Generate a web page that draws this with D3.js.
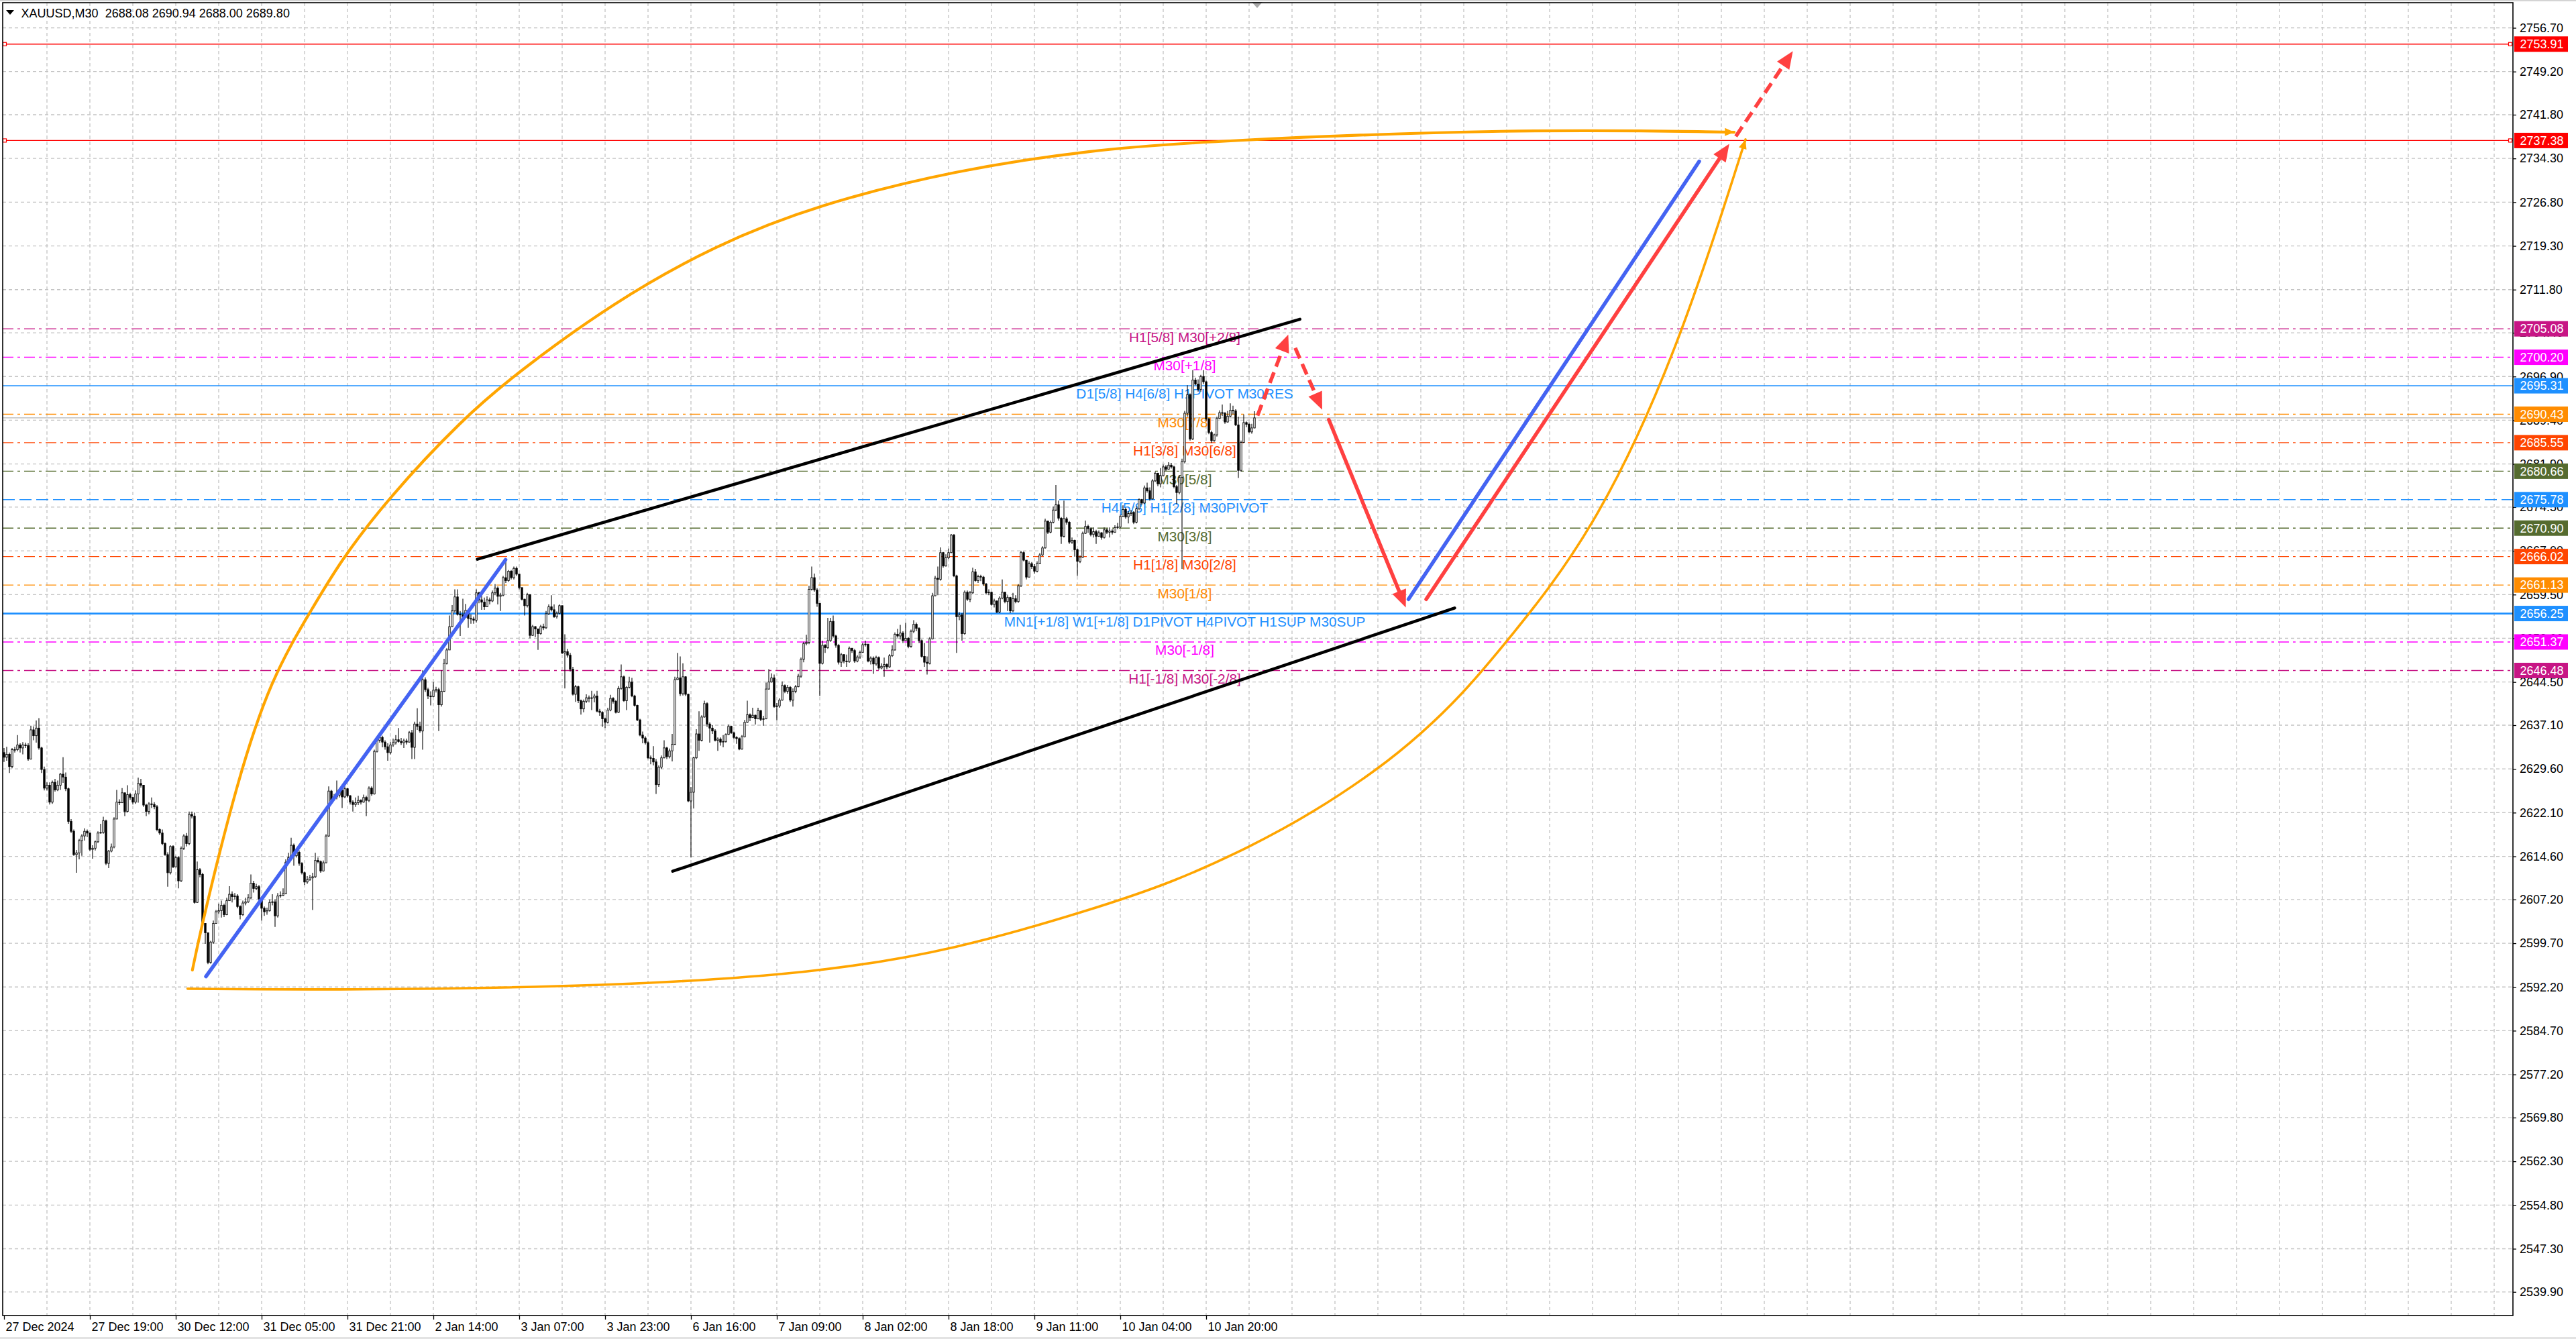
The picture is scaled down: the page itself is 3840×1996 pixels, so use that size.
<!DOCTYPE html>
<html>
<head>
<meta charset="utf-8">
<script src="https://cdn.jsdelivr.net/npm/d3@7"></script>
<style>
  body { margin: 0; background: #fff; overflow: hidden; }
  svg { display: block; }
</style>
</head>
<body>
<svg id="chart"></svg>
<script>
// ---- data ----
const title = "XAUUSD,M30  2688.08 2690.94 2688.00 2689.80";
const firstOpen = 2632.4;
const bidPrice = 2689.80;

const closes = [
2631.6,2632.1,2630.0,2632.9,2632.9,2633.7,2633.2,2633.7,2633.6,2631.3,
2636.3,2635.3,2636.6,2633.2,2629.5,2626.3,2626.8,2623.9,2627.3,2626.0,
2626.8,2628.7,2628.2,2626.2,2620.6,2618.9,2614.9,2615.2,2617.3,2618.1,
2618.9,2618.6,2615.8,2616.0,2617.1,2618.6,2618.7,2620.7,2613.4,2615.5,
2616.2,2621.0,2623.9,2623.8,2625.5,2622.3,2625.2,2624.7,2623.9,2625.3,
2627.1,2626.8,2623.4,2622.3,2623.6,2623.5,2623.1,2619.2,2618.6,2616.8,
2614.9,2611.8,2616.3,2612.8,2614.4,2610.4,2616.0,2618.1,2616.8,2621.8,
2621.5,2606.7,2612.3,2611.5,2603.1,2601.5,2596.4,2599.9,2603.1,2605.1,
2605.3,2606.2,2604.6,2607.0,2608.1,2607.7,2607.8,2606.0,2604.6,2606.6,
2606.8,2607.5,2610.0,2609.1,2609.4,2607.3,2605.7,2605.1,2605.3,2606.7,
2606.8,2604.4,2607.8,2607.9,2608.2,2613.6,2614.4,2616.5,2614.7,2615.3,
2613.4,2611.8,2610.2,2610.6,2610.9,2611.1,2613.9,2613.7,2612.1,2613.5,
2618.1,2625.8,2624.3,2624.8,2625.1,2625.9,2624.8,2626.2,2625.0,2623.9,
2623.5,2623.8,2624.2,2623.9,2624.7,2624.2,2626.3,2625.3,2632.6,2634.5,
2635.0,2634.2,2633.4,2632.4,2633.7,2634.1,2634.6,2634.3,2634.1,2634.4,
2634.2,2635.8,2633.3,2637.3,2636.9,2636.1,2644.9,2643.2,2642.1,2642.0,
2643.1,2643.2,2640.6,2642.9,2647.7,2650.0,2654.0,2656.7,2659.1,2656.1,
2656.0,2655.6,2656.8,2655.4,2655.3,2655.1,2659.8,2658.6,2658.2,2657.4,
2658.6,2658.4,2659.8,2660.6,2659.2,2659.4,2662.4,2661.9,2663.5,2662.4,
2664.0,2663.0,2660.7,2658.7,2657.6,2659.5,2652.5,2654.0,2653.6,2652.8,
2654.0,2653.8,2656.2,2657.4,2656.9,2655.7,2656.3,2657.6,2649.5,2649.7,
2649.1,2646.7,2642.4,2643.7,2641.3,2639.9,2641.2,2641.8,2641.7,2641.8,
2642.1,2639.5,2639.3,2638.2,2637.6,2639.7,2641.7,2641.2,2639.3,2643.4,
2645.4,2641.3,2643.6,2644.5,2642.1,2640.5,2638.0,2635.4,2634.9,2634.1,
2631.5,2631.4,2630.8,2626.9,2629.9,2631.5,2633.2,2631.7,2632.7,2633.8,
2644.9,2645.2,2642.5,2645.4,2642.4,2624.1,2625.6,2631.5,2635.6,2634.5,
2638.5,2640.8,2637.3,2636.6,2636.1,2634.5,2634.7,2634.2,2634.3,2635.5,
2636.9,2635.8,2635.0,2634.8,2633.0,2635.1,2637.6,2638.9,2638.4,2638.8,
2638.2,2639.6,2638.1,2638.2,2643.3,2644.5,2645.2,2640.3,2640.4,2641.4,
2643.9,2642.9,2643.6,2641.4,2642.9,2643.7,2645.5,2648.4,2651.1,2651.3,
2660.4,2662.4,2660.3,2658.0,2647.7,2650.8,2650.4,2651.6,2654.9,2652.4,
2650.8,2647.9,2649.2,2648.1,2648.0,2650.3,2649.9,2648.1,2648.8,2649.6,
2650.9,2651.0,2648.1,2648.6,2647.6,2648.7,2646.9,2647.2,2647.5,2647.1,
2649.0,2650.0,2652.7,2652.4,2652.9,2651.6,2652.0,2650.6,2653.2,2654.4,
2653.7,2651.6,2648.9,2647.9,2647.7,2651.9,2659.3,2662.3,2662.1,2666.7,
2664.4,2665.8,2666.7,2669.7,2662.7,2655.7,2656.0,2652.8,2659.9,2658.7,
2659.8,2663.4,2661.9,2662.6,2662.5,2661.3,2659.8,2659.9,2657.8,2658.4,
2656.5,2658.9,2659.9,2658.3,2659.0,2656.7,2658.8,2658.3,2661.0,2666.7,
2665.4,2662.5,2664.8,2664.3,2663.5,2664.8,2666.3,2667.5,2672.1,2670.2,
2671.9,2674.0,2674.9,2672.6,2669.5,2672.5,2671.9,2668.5,2668.8,2667.2,
2665.2,2665.9,2670.0,2671.2,2670.8,2669.8,2670.3,2669.5,2670.1,2669.3,
2670.6,2670.2,2670.4,2670.2,2671.0,2671.1,2672.9,2674.1,2672.8,2673.4,
2673.6,2671.9,2674.2,2675.8,2675.2,2677.8,2677.3,2675.9,2679.0,2680.3,
2678.5,2679.9,2681.4,2681.0,2681.7,2681.4,2678.0,2677.0,2679.6,2682.3,
2690.6,2693.8,2686.2,2696.3,2695.6,2694.7,2696.9,2696.0,2689.6,2687.3,
2685.9,2686.9,2689.7,2690.7,2690.6,2689.1,2690.1,2691.1,2691.0,2688.6,
2680.8,2685.6,2689.0,2688.7,2687.4,2688.08,2689.80
];

const highs = [
2633.2,2633.4,2632.4,2633.2,2633.4,2635.4,2634.0,2634.2,2634.1,2634.0,
2637.0,2636.9,2637.9,2638.3,2633.4,2630.0,2627.3,2627.3,2627.6,2627.9,
2627.6,2628.9,2631.6,2629.0,2626.4,2621.0,2619.2,2615.7,2617.6,2618.4,
2619.4,2619.2,2618.4,2616.5,2617.3,2618.9,2620.2,2621.4,2620.9,2615.7,
2616.8,2621.3,2626.0,2624.4,2626.3,2625.5,2626.8,2625.5,2624.8,2625.9,
2628.1,2627.9,2626.7,2623.6,2623.9,2624.7,2623.9,2623.4,2619.4,2619.2,
2617.0,2615.3,2616.5,2616.5,2614.7,2614.6,2616.3,2618.4,2618.6,2622.3,
2622.3,2622.1,2613.7,2612.6,2611.8,2603.1,2601.5,2600.1,2603.6,2605.4,
2606.5,2607.0,2606.5,2607.5,2609.5,2608.6,2608.3,2608.1,2606.2,2607.0,
2607.5,2608.1,2611.5,2610.4,2609.9,2609.7,2607.7,2606.0,2605.8,2607.2,
2608.1,2607.2,2608.3,2608.6,2609.1,2614.1,2615.2,2617.8,2616.8,2615.8,
2615.6,2613.6,2612.0,2611.2,2611.4,2611.8,2615.2,2614.4,2613.9,2613.9,
2618.4,2626.6,2626.0,2625.3,2627.6,2626.3,2626.4,2626.6,2626.3,2625.1,
2624.2,2624.7,2625.0,2624.4,2625.2,2625.0,2626.6,2626.6,2632.9,2635.0,
2635.8,2635.3,2634.5,2634.0,2634.2,2634.8,2635.4,2636.6,2634.9,2634.8,
2634.8,2636.1,2636.3,2637.7,2640.0,2637.7,2646.5,2645.3,2643.5,2642.9,
2644.5,2643.7,2643.5,2646.5,2648.5,2650.3,2655.9,2657.7,2660.4,2660.4,
2656.7,2658.8,2657.9,2656.1,2656.1,2655.7,2660.4,2660.0,2659.4,2659.0,
2659.2,2659.0,2660.2,2661.3,2660.9,2659.8,2662.7,2665.2,2663.7,2663.7,
2664.3,2664.3,2663.0,2660.6,2658.8,2659.8,2659.5,2654.3,2654.1,2653.6,
2654.3,2654.5,2656.7,2657.8,2659.4,2657.8,2656.6,2657.8,2657.6,2652.7,
2650.2,2649.5,2647.1,2644.0,2643.9,2641.5,2641.5,2642.4,2642.2,2643.0,
2642.5,2643.0,2639.9,2639.5,2638.4,2640.1,2642.3,2641.9,2641.4,2643.8,
2647.5,2645.6,2643.8,2645.4,2645.2,2642.3,2640.6,2638.2,2636.0,2635.2,
2634.3,2631.9,2633.5,2631.3,2630.2,2631.9,2634.5,2633.4,2633.1,2635.6,
2645.4,2649.5,2648.9,2647.7,2645.5,2642.5,2626.5,2631.7,2636.4,2639.5,
2638.8,2641.3,2641.0,2637.6,2637.1,2636.4,2635.0,2635.0,2635.4,2635.7,
2637.2,2637.0,2636.0,2635.2,2635.0,2635.4,2638.0,2641.3,2639.1,2640.1,
2638.9,2640.1,2639.7,2638.7,2644.4,2646.7,2646.0,2645.8,2640.9,2641.7,
2644.6,2644.1,2644.0,2643.8,2643.4,2644.0,2645.9,2648.7,2651.4,2652.6,
2661.0,2664.3,2663.1,2660.6,2658.0,2651.6,2651.0,2655.5,2655.5,2655.9,
2652.6,2651.0,2649.5,2649.3,2649.2,2650.6,2650.2,2650.2,2649.1,2649.9,
2651.2,2651.6,2651.0,2648.9,2648.9,2649.0,2648.9,2647.7,2648.7,2647.7,
2649.3,2650.8,2653.0,2653.6,2654.3,2653.2,2654.7,2652.2,2653.5,2655.1,
2654.7,2653.9,2651.8,2651.2,2648.9,2652.2,2659.8,2662.7,2664.3,2667.6,
2666.8,2666.4,2667.4,2669.9,2669.9,2662.9,2656.5,2656.3,2660.2,2660.2,
2660.1,2664.1,2663.9,2662.9,2662.9,2662.7,2661.5,2660.4,2660.0,2658.8,
2658.5,2659.2,2662.1,2660.0,2659.4,2659.1,2659.8,2659.4,2661.3,2667.0,
2666.9,2665.4,2665.2,2665.1,2664.7,2665.2,2666.6,2667.8,2672.5,2672.1,
2672.2,2674.6,2678.3,2675.6,2672.8,2675.6,2672.8,2672.1,2669.3,2668.9,
2667.4,2666.2,2670.3,2672.2,2671.5,2671.0,2671.0,2670.6,2670.5,2670.2,
2671.0,2670.8,2671.0,2670.7,2671.4,2671.8,2673.2,2674.8,2674.4,2673.8,
2674.0,2673.8,2674.6,2676.0,2675.9,2678.2,2678.7,2677.9,2679.3,2680.6,
2680.4,2681.2,2681.8,2681.7,2682.2,2682.1,2681.6,2678.3,2680.0,2682.8,
2691.0,2695.4,2694.0,2698.0,2696.7,2696.4,2697.2,2698.0,2696.2,2689.8,
2687.6,2687.1,2690.0,2691.1,2692.1,2690.8,2691.0,2692.3,2691.9,2691.3,
2690.0,2685.9,2690.4,2689.2,2689.0,2688.8,2690.94
];

const lows = [
2630.8,2631.0,2628.9,2629.7,2632.4,2632.6,2632.4,2632.1,2633.2,2631.0,
2631.2,2634.5,2634.1,2632.9,2628.9,2625.9,2625.9,2623.5,2623.6,2625.7,
2625.8,2626.0,2627.2,2625.8,2620.2,2618.6,2614.7,2611.8,2614.1,2614.7,
2617.3,2617.9,2615.5,2614.2,2615.6,2616.9,2618.5,2618.5,2613.1,2612.6,
2615.3,2616.0,2621.3,2623.4,2623.9,2621.5,2622.1,2624.3,2623.5,2623.6,
2623.8,2626.4,2623.1,2621.5,2621.8,2622.9,2622.7,2618.9,2618.3,2616.5,
2614.7,2609.4,2611.5,2612.6,2612.7,2609.1,2610.2,2615.7,2616.3,2616.5,
2621.1,2606.5,2606.6,2611.0,2602.8,2599.6,2596.1,2596.2,2599.6,2603.1,
2604.7,2604.1,2604.2,2604.5,2607.2,2606.7,2607.2,2605.7,2603.8,2604.4,
2606.2,2606.6,2607.3,2608.4,2608.8,2607.0,2603.6,2604.4,2604.6,2605.1,
2606.2,2602.5,2604.1,2607.5,2607.8,2608.1,2613.4,2614.4,2613.0,2614.4,
2613.0,2611.5,2609.7,2609.9,2610.4,2605.4,2610.9,2613.4,2611.8,2612.0,
2613.4,2617.9,2623.9,2624.3,2624.4,2624.7,2622.9,2624.6,2624.7,2623.5,
2622.3,2623.1,2623.4,2623.5,2623.8,2621.5,2623.9,2625.0,2625.2,2632.4,
2634.1,2633.3,2632.9,2631.0,2632.1,2633.4,2633.8,2634.1,2633.7,2633.2,
2633.8,2634.1,2631.3,2631.3,2636.3,2635.8,2632.9,2642.8,2641.6,2640.5,
2641.9,2642.7,2636.1,2640.3,2642.8,2647.5,2650.1,2653.9,2656.4,2655.9,
2652.4,2655.3,2655.5,2653.8,2654.5,2654.5,2654.7,2658.0,2656.9,2656.9,
2657.6,2657.8,2658.2,2659.4,2657.8,2656.7,2659.2,2661.5,2661.7,2662.1,
2662.1,2662.7,2660.4,2658.5,2655.9,2657.3,2652.0,2652.4,2652.2,2650.0,
2652.6,2653.4,2653.6,2656.0,2656.6,2655.5,2655.4,2656.1,2649.3,2643.4,
2648.7,2646.3,2642.2,2641.1,2640.9,2638.9,2639.3,2640.9,2641.0,2639.7,
2641.0,2639.3,2638.7,2636.8,2636.6,2637.4,2639.5,2640.8,2639.1,2639.2,
2643.2,2641.1,2639.7,2643.4,2641.9,2640.3,2637.8,2635.2,2634.0,2633.8,
2631.3,2630.4,2630.2,2625.3,2626.5,2629.6,2631.4,2631.3,2631.4,2630.9,
2633.7,2644.8,2642.1,2642.2,2642.1,2623.9,2614.4,2622.8,2631.3,2632.7,
2634.3,2638.4,2636.8,2634.1,2635.6,2634.3,2632.7,2633.6,2633.3,2634.1,
2635.4,2635.6,2634.7,2633.9,2632.8,2632.9,2635.0,2637.5,2637.8,2638.4,
2637.2,2638.1,2637.8,2637.0,2638.1,2643.2,2644.4,2640.1,2637.9,2640.1,
2641.3,2642.6,2642.5,2641.1,2640.3,2642.6,2643.6,2645.2,2647.9,2650.8,
2651.0,2660.2,2660.0,2657.4,2642.1,2647.5,2649.5,2650.2,2651.4,2652.1,
2650.4,2647.5,2647.1,2647.7,2647.1,2647.8,2649.5,2647.8,2647.9,2648.5,
2649.5,2650.6,2647.9,2647.5,2645.9,2647.3,2646.6,2646.7,2645.4,2646.7,
2646.9,2648.8,2649.9,2652.1,2651.8,2651.2,2651.6,2650.3,2650.4,2652.9,
2653.2,2651.2,2648.7,2647.1,2645.8,2647.5,2651.8,2659.2,2659.4,2661.9,
2664.1,2664.3,2665.6,2666.6,2662.5,2649.5,2655.1,2651.6,2652.6,2658.4,
2658.2,2659.6,2661.7,2661.5,2661.8,2661.0,2659.5,2659.4,2657.6,2657.3,
2656.3,2656.3,2658.7,2658.0,2656.7,2656.3,2656.5,2658.0,2658.1,2660.8,
2665.2,2662.1,2662.4,2663.9,2663.1,2663.3,2664.7,2666.1,2667.4,2669.9,
2670.0,2671.7,2673.8,2672.2,2668.2,2669.3,2671.5,2668.2,2668.2,2666.0,
2662.7,2664.9,2665.8,2669.9,2670.1,2669.5,2669.3,2668.2,2669.4,2668.9,
2669.1,2669.9,2669.3,2669.8,2670.1,2670.7,2670.9,2672.8,2672.5,2671.7,
2673.0,2671.6,2671.7,2674.0,2674.9,2675.0,2677.0,2675.6,2675.8,2678.8,
2678.1,2677.9,2679.8,2680.7,2681.2,2681.1,2677.7,2675.0,2676.7,2663.9,
2682.0,2690.0,2685.9,2686.0,2695.4,2694.3,2694.3,2695.6,2689.3,2687.0,
2685.5,2685.7,2686.6,2689.6,2690.1,2688.8,2689.0,2689.9,2690.4,2688.4,
2679.5,2680.6,2685.5,2688.2,2687.2,2687.1,2688.00
];

const priceTicks = [2756.70, 2749.20, 2741.80, 2734.30, 2726.80, 2719.30, 2711.80, 2704.40,
  2696.90, 2689.40, 2681.90, 2674.50, 2667.00, 2659.50, 2652.00, 2644.50, 2637.10, 2629.60,
  2622.10, 2614.60, 2607.20, 2599.70, 2592.20, 2584.70, 2577.20, 2569.80, 2562.30, 2554.80,
  2547.30, 2539.90];

const timeLabels = ["27 Dec 2024", "27 Dec 19:00", "30 Dec 12:00", "31 Dec 05:00", "31 Dec 21:00",
  "2 Jan 14:00", "3 Jan 07:00", "3 Jan 23:00", "6 Jan 16:00", "7 Jan 09:00", "8 Jan 02:00",
  "8 Jan 18:00", "9 Jan 11:00", "10 Jan 04:00", "10 Jan 20:00"];
const barsPerLabel = 32;

// murrey / pivot levels
const levelPrices = [2705.08, 2700.20, 2695.31, 2690.43, 2685.55, 2680.66, 2675.78, 2670.90,
  2666.02, 2661.13, 2656.25, 2651.37, 2646.48];
const levelTexts = ["H1[5/8] M30[+2/8]", "M30[+1/8]", "D1[5/8] H4[6/8] H1PIVOT M30RES", "M30[7/8]",
  "H1[3/8] M30[6/8]", "M30[5/8]", "H4[5/8] H1[2/8] M30PIVOT", "M30[3/8]", "H1[1/8] M30[2/8]",
  "M30[1/8]", "MN1[+1/8] W1[+1/8] D1PIVOT H4PIVOT H1SUP M30SUP", "M30[-1/8]", "H1[-1/8] M30[-2/8]"];
const levelTextBar = 440;
const redLevels = [2753.91, 2737.38];

// hand drawn objects: [bar, price] pairs
const channelLines = [[176.4, 2665.56, 482.95, 2706.73], [249.2, 2612.05, 540.6, 2657.2]];
const blueLines = [[75.25, 2594.0, 186.9, 2665.46], [523.4, 2658.7, 631.75, 2733.8]];
const redArrows = [
  [467.15, 2690.2, 478.6, 2704.1],
  [481.2, 2701.8, 491.25, 2691.2],
  [493.7, 2689.5, 522.4, 2657.3],
  [530.0, 2658.7, 642.95, 2736.8],
  [645.4, 2738.1, 666.65, 2752.7]
];
const redArrowDashed = [true, true, false, false, true];
const upperArc = [[70.2, 2595.1], [74.0, 2603.5], [86.75, 2627.3], [99.5, 2645.2], [114.75, 2657.0],
  [125.0, 2665.0], [142.9, 2675.9], [171.0, 2689.7], [191.35, 2697.6], [227.0, 2709.6],
  [265.25, 2719.5], [303.5, 2726.4], [354.6, 2732.3], [405.65, 2735.8], [448.5, 2737.3],
  [563.25, 2739.4], [644.8, 2738.8]];
const lowerArc = [[68.4, 2591.9], [125.0, 2591.65], [227.0, 2592.3], [303.5, 2594.6], [354.6, 2598.6],
  [405.65, 2605.5], [436.0, 2610.2], [464.7, 2616.3], [487.7, 2622.05], [512.55, 2629.7],
  [527.85, 2635.5], [543.15, 2642.2], [560.4, 2651.6], [592.0, 2669.9], [623.5, 2700.8],
  [649.0, 2737.55]];

// ---- styles ----
const levelColors = ["#C71585", "#FF00FF", "#1E90FF", "#FF8C00", "#FF4500", "#556B2F", "#1E90FF",
  "#556B2F", "#FF4500", "#FF8C00", "#1E90FF", "#FF00FF", "#C71585"];
const levelDash = ["16,6,4,6", "16,6,4,6", null, "16,6,4,6", "16,6,4,6", "16,6,4,6", "18,7",
  "16,6,4,6", "16,6,4,6", "16,6,4,6", null, "16,6,4,6", "16,6,4,6"];
const levelWidth = [1.4, 1.4, 1.5, 1.4, 1.4, 1.4, 1.5, 1.4, 1.4, 1.4, 2.8, 1.4, 1.4];
const FONT = "'Liberation Sans', Arial, sans-serif";
const RED = "#FF4040";

const W = 3840, H = 1996;
const plot = {left: 4, right: 3746, top: 4, bottom: 1961};

const x = d3.scaleLinear().domain([0, 466]).range([6, 1870]);
const y = d3.scaleLinear().domain([2539.9, 2756.7]).range([1925.8, 41.5]);

const svg = d3.select("#chart").attr("width", W).attr("height", H);
svg.append("rect").attr("width", W).attr("height", H).attr("fill", "#fff");
svg.append("rect").attr("width", W).attr("height", 2).attr("fill", "#d4d4d4");
svg.append("rect").attr("y", H - 3).attr("width", W).attr("height", 3).attr("fill", "#e3e3e3");

svg.append("defs").append("clipPath").attr("id", "plotClip").append("rect")
  .attr("x", plot.left).attr("y", plot.top)
  .attr("width", plot.right - plot.left).attr("height", plot.bottom - plot.top);

const g = svg.append("g").attr("clip-path", "url(#plotClip)");

// grid
g.append("g").selectAll("line").data(priceTicks).join("line")
  .attr("x1", plot.left).attr("x2", plot.right)
  .attr("y1", d => y(d)).attr("y2", d => y(d))
  .attr("stroke", "#c4c4c4").attr("stroke-width", 1.3).attr("stroke-dasharray", "5,4");

const vGrid = d3.range(16, 940, 16).filter(b => x(b) < plot.right);
g.append("g").selectAll("line").data(vGrid).join("line")
  .attr("x1", d => x(d)).attr("x2", d => x(d))
  .attr("y1", plot.top).attr("y2", plot.bottom)
  .attr("stroke", "#c4c4c4").attr("stroke-width", 1.3).attr("stroke-dasharray", "5,4");

// bid line
g.append("line")
  .attr("x1", plot.left).attr("x2", plot.right)
  .attr("y1", y(bidPrice)).attr("y2", y(bidPrice))
  .attr("stroke", "#b4b4b4").attr("stroke-width", 1.3);

// level lines + labels
const lv = g.append("g");
levelPrices.forEach((p, k) => {
  lv.append("line")
    .attr("x1", plot.left).attr("x2", plot.right)
    .attr("y1", y(p)).attr("y2", y(p))
    .attr("stroke", levelColors[k]).attr("stroke-width", levelWidth[k])
    .attr("stroke-dasharray", levelDash[k]);
  lv.append("text")
    .attr("x", x(levelTextBar)).attr("y", y(p) + 19.4)
    .attr("text-anchor", "middle")
    .attr("font-family", FONT).attr("font-size", 20.8)
    .attr("fill", levelColors[k])
    .text(levelTexts[k]);
});

// red horizontal lines with anchor squares
redLevels.forEach(p => {
  g.append("line")
    .attr("x1", plot.left).attr("x2", plot.right)
    .attr("y1", y(p)).attr("y2", y(p))
    .attr("stroke", "#FF0000").attr("stroke-width", 1.4);
  [plot.left + 3, plot.right - 4].forEach(cx => {
    g.append("rect").attr("x", cx - 2.5).attr("y", y(p) - 2.5)
      .attr("width", 5).attr("height", 5)
      .attr("fill", "#fff").attr("stroke", "#FF0000").attr("stroke-width", 1.2);
  });
});

// candles
const candles = closes.map((c, i) => {
  const o = i === 0 ? firstOpen : closes[i - 1];
  return {i, o, c, h: Math.max(highs[i], o, c), l: Math.min(lows[i], o, c)};
});
const cg = g.append("g");
cg.selectAll("line").data(candles).join("line")
  .attr("x1", d => x(d.i)).attr("x2", d => x(d.i))
  .attr("y1", d => y(d.h)).attr("y2", d => y(d.l))
  .attr("stroke", "#000").attr("stroke-width", 1.1);
cg.selectAll("rect").data(candles).join("rect")
  .attr("x", d => x(d.i) - 1.2)
  .attr("width", 2.4)
  .attr("y", d => y(Math.max(d.o, d.c)))
  .attr("height", d => Math.max(0.8, Math.abs(y(d.o) - y(d.c))))
  .attr("fill", d => d.c >= d.o ? "#fff" : "#000")
  .attr("stroke", "#000").attr("stroke-width", 0.9);

// drawn objects
const obj = g.append("g").attr("stroke-linecap", "round");

function arrow(sel, a, color, width, dashed, headL, headW) {
  const x1 = x(a[0]), y1 = y(a[1]), x2 = x(a[2]), y2 = y(a[3]);
  const len = Math.hypot(x2 - x1, y2 - y1), ux = (x2 - x1) / len, uy = (y2 - y1) / len;
  const bx = x2 - ux * headL, by = y2 - uy * headL;
  sel.append("line").attr("x1", x1).attr("y1", y1).attr("x2", bx).attr("y2", by)
    .attr("stroke", color).attr("stroke-width", width)
    .attr("stroke-linecap", dashed ? "butt" : "round")
    .attr("stroke-dasharray", dashed ? "17,9" : null);
  sel.append("path")
    .attr("d", `M${x2},${y2}L${bx - uy * headW},${by + ux * headW}L${bx + uy * headW},${by - ux * headW}Z`)
    .attr("fill", color);
}

// B-spline smooths the small reading errors of the hand drawn arcs
const arcLine = d3.line().x(d => x(d[0])).y(d => y(d[1])).curve(d3.curveBasis);
function arcWithHead(pts, width) {
  obj.append("path").attr("d", arcLine(pts)).attr("fill", "none")
    .attr("stroke", "#FFA500").attr("stroke-width", width);
  const a = pts[pts.length - 2], b = pts[pts.length - 1];
  const x1 = x(a[0]), y1 = y(a[1]), x2 = x(b[0]), y2 = y(b[1]);
  const len = Math.hypot(x2 - x1, y2 - y1), ux = (x2 - x1) / len, uy = (y2 - y1) / len;
  const bx = x2 - ux * 14, by = y2 - uy * 14;
  obj.append("path")
    .attr("d", `M${x2},${y2}L${bx - uy * 6},${by + ux * 6}L${bx + uy * 6},${by - ux * 6}Z`)
    .attr("fill", "#FFA500");
}
arcWithHead(upperArc, 4.2);
arcWithHead(lowerArc, 3.6);

channelLines.forEach(a => {
  obj.append("line").attr("x1", x(a[0])).attr("y1", y(a[1])).attr("x2", x(a[2])).attr("y2", y(a[3]))
    .attr("stroke", "#000").attr("stroke-width", 4.5);
});
blueLines.forEach(a => {
  obj.append("line").attr("x1", x(a[0])).attr("y1", y(a[1])).attr("x2", x(a[2])).attr("y2", y(a[3]))
    .attr("stroke", "#4463F2").attr("stroke-width", 5.5);
});
redArrows.forEach((a, k) => arrow(obj, a, RED, 5.5, redArrowDashed[k], 26, 11));

// chart-shift marker
const sx = x(467);
svg.append("path").attr("d", `M${sx - 8},3L${sx + 8},3L${sx},12Z`).attr("fill", "#a8a8a8");

// frame
svg.append("rect")
  .attr("x", plot.left).attr("y", plot.top)
  .attr("width", plot.right - plot.left).attr("height", plot.bottom - plot.top)
  .attr("fill", "none").attr("stroke", "#000").attr("stroke-width", 1.6);

// price axis
svg.append("g")
  .attr("transform", `translate(${plot.right},0)`)
  .call(d3.axisRight(y).tickValues(priceTicks).tickSize(5).tickPadding(5).tickFormat(d3.format(".2f")))
  .attr("font-family", FONT).attr("font-size", 18)
  .call(a => a.select(".domain").remove())
  .call(a => a.selectAll("text").attr("fill", "#000"))
  .call(a => a.selectAll("line").attr("stroke", "#000").attr("stroke-width", 1.3));

// level price boxes (drawn over the axis labels, as in the terminal)
const boxes = redLevels.map(p => ({p, c: "#FF0000"}))
  .concat(levelPrices.map((p, k) => ({p, c: levelColors[k]})));
const bx = svg.append("g");
boxes.forEach(b => {
  bx.append("rect").attr("x", plot.right + 2).attr("y", y(b.p) - 11.5)
    .attr("width", 80).attr("height", 23).attr("fill", b.c);
  bx.append("text").attr("x", plot.right + 10.5).attr("y", y(b.p)).attr("dy", "0.35em")
    .attr("font-family", FONT).attr("font-size", 18).attr("fill", "#fff")
    .text(b.p.toFixed(2));
});

// time axis
svg.append("g")
  .attr("transform", `translate(0,${plot.bottom})`)
  .call(d3.axisBottom(x)
    .tickValues(timeLabels.map((d, k) => k * barsPerLabel))
    .tickFormat((d, k) => timeLabels[k])
    .tickSize(6).tickPadding(4))
  .attr("font-family", FONT).attr("font-size", 18)
  .call(a => a.select(".domain").remove())
  .call(a => a.selectAll("text").attr("fill", "#000").attr("text-anchor", "start").attr("dx", 2))
  .call(a => a.selectAll("line").attr("stroke", "#000").attr("stroke-width", 1.3));

// title
svg.append("path").attr("d", "M9,15L21,15L15,22Z").attr("fill", "#000");
svg.append("text").attr("x", 31.6).attr("y", 26)
  .attr("font-family", FONT).attr("font-size", 18).attr("fill", "#000")
  .style("white-space", "pre")
  .text(title);
</script>
</body>
</html>
